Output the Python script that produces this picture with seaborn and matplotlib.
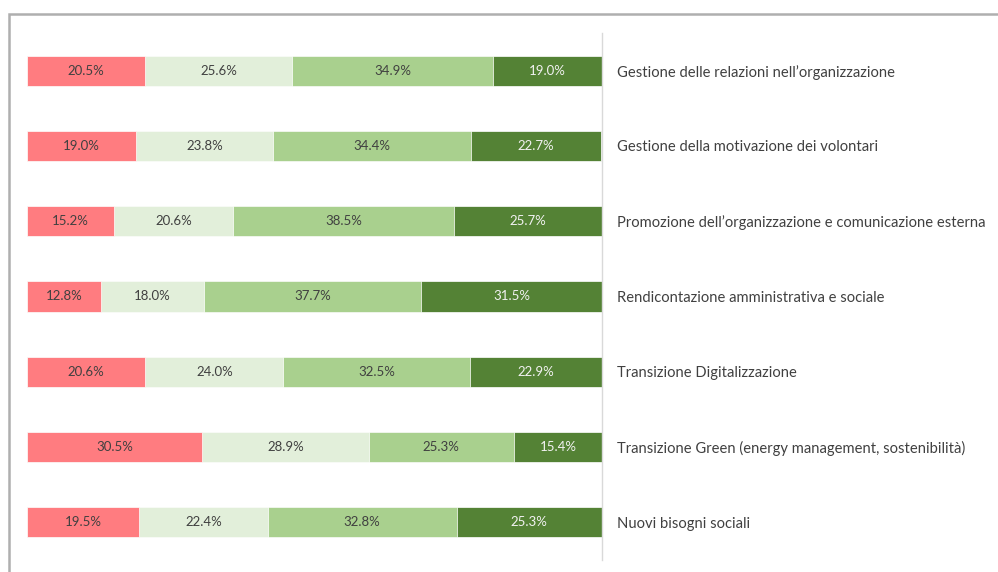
import numpy as np
import pandas as pd
import seaborn as sns
import matplotlib.pyplot as plt
from matplotlib.patches import Rectangle

categories = [
    "Gestione delle relazioni nell’organizzazione",
    "Gestione della motivazione dei volontari",
    "Promozione dell’organizzazione e comunicazione esterna",
    "Rendicontazione amministrativa e sociale",
    "Transizione Digitalizzazione",
    "Transizione Green (energy management, sostenibilità)",
    "Nuovi bisogni sociali",
]
level1 = [20.5, 19.0, 15.2, 12.8, 20.6, 30.5, 19.5]
level2 = [25.6, 23.8, 20.6, 18.0, 24.0, 28.9, 22.4]
level3 = [34.9, 34.4, 38.5, 37.7, 32.5, 25.3, 32.8]
level4 = [19.0, 22.7, 25.7, 31.5, 22.9, 15.4, 25.3]

colors = ["#FF7C80", "#E2EFDA", "#A9D08E", "#548235"]
text_colors = ["#404040", "#404040", "#404040", "#F2F2F2"]

sns.set_style("white")
plt.rcParams["font.family"] = ["Lato", "DejaVu Sans"]

df = pd.DataFrame({"cat": categories, "l1": level1, "l2": level2,
                   "l3": level3, "l4": level4})
levels = ["l1", "l2", "l3", "l4"]
cum = df[levels].cumsum(axis=1)

fig = plt.figure(figsize=(9.98, 5.72), dpi=100)
ax = fig.add_axes([27 / 998, 1 - 560 / 572, (602 - 27) / 998, (560 - 33) / 572])

# overlay cumulative bars, longest first
for i in range(3, -1, -1):
    sns.barplot(x=cum[levels[i]], y=df["cat"], orient="h", color=colors[i],
                saturation=1, width=0.4, edgecolor="white", linewidth=0.5, ax=ax)

for r in range(len(df)):
    start = 0
    for i, lv in enumerate(levels):
        v = df.loc[r, lv]
        ax.text(start + v / 2, r, f"{v:.1f}%", ha="center", va="center",
                fontsize=9.5, color=text_colors[i])
        start += v

ax.set_xlim(0, 100)
ax.set_ylim(6.5, -0.5)
ax.set_xlabel("")
ax.set_ylabel("")
ax.set_xticks([])
ax.yaxis.tick_right()
ax.tick_params(axis="y", length=0, pad=11, labelsize=10.6, labelcolor="#404040")
for s in ["top", "left", "bottom"]:
    ax.spines[s].set_visible(False)
ax.spines["right"].set_color("#D9D9D9")
ax.spines["right"].set_linewidth(1)

fig.add_artist(Rectangle((9 / 998, -0.1), 1.2, 1 - 14 / 572 + 0.1,
                         transform=fig.transFigure, fill=False,
                         edgecolor="#AFAFAF", linewidth=1.8, clip_on=False))

fig.savefig("out.png", dpi=100)
